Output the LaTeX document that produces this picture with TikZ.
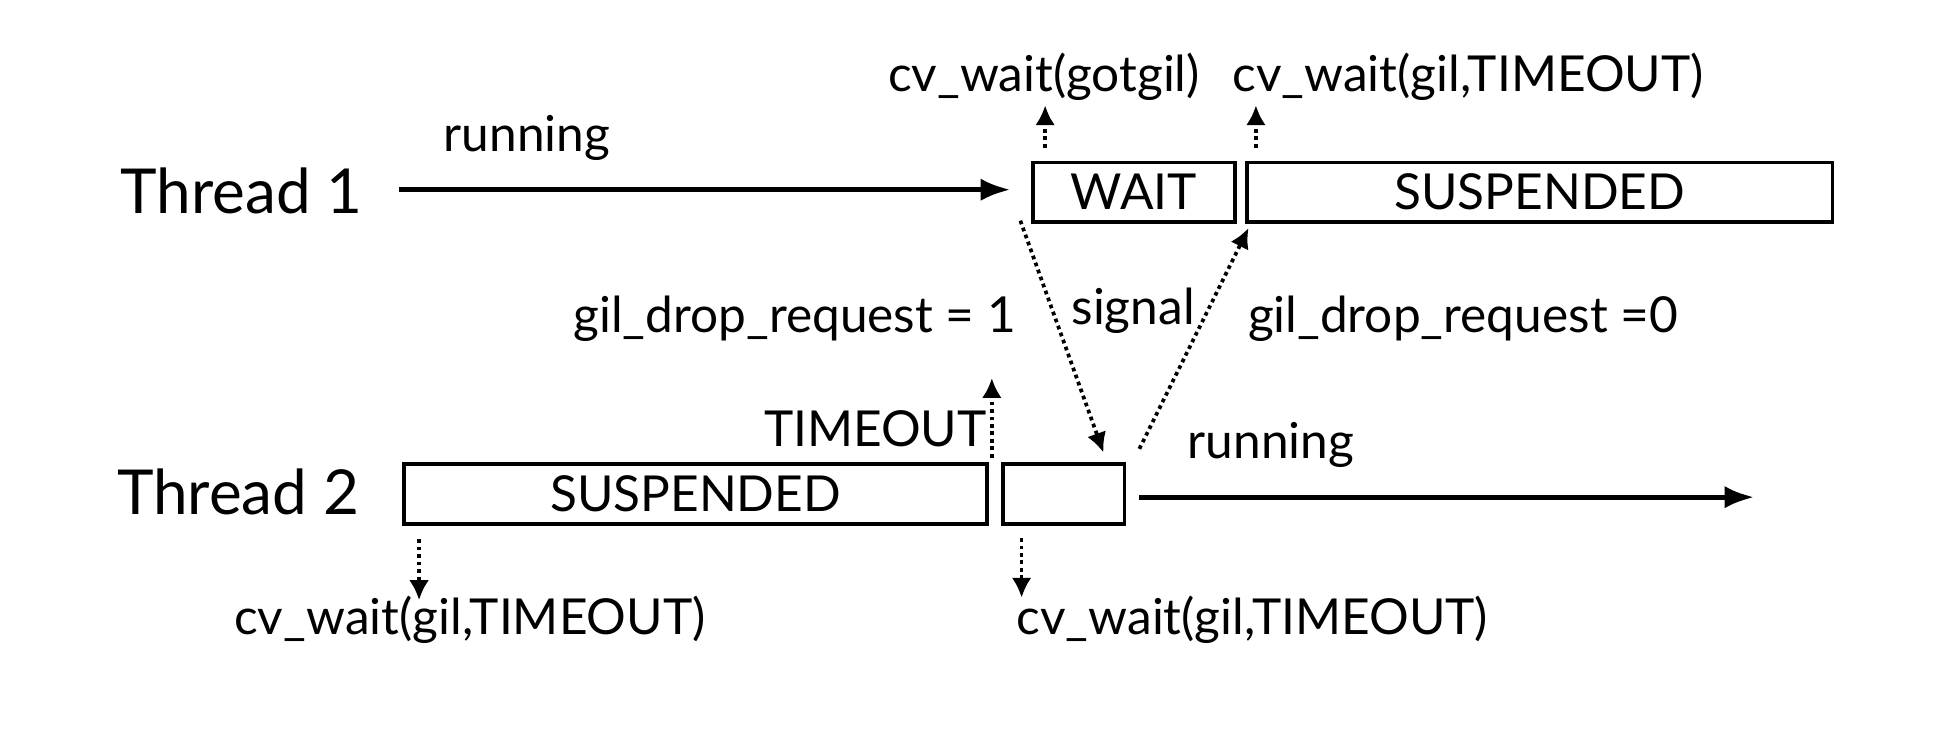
\documentclass[tikz,border=0pt]{standalone}
\usepackage{fontspec}
\setmainfont{Lato}
\usepackage{tikz}
\usetikzlibrary{arrows.meta,positioning}

\begin{document}
\begin{tikzpicture}[
    x=0.5pt, y=-0.5pt,
    state/.style={
        rectangle, draw=black, line width=1.5pt,
        minimum height=24pt, inner sep=0pt,
        font=\fontsize{20}{22}\selectfont
    },
    thread/.style={
        font=\fontsize{25}{28}\selectfont, anchor=base
    },
    lbl/.style={
        font=\fontsize{20}{22}\selectfont, anchor=base, inner sep=0pt
    },
    run/.style={
        -{Latex[length=12pt,width=9pt]}, line width=2pt
    },
    call/.style={
        -{Latex[length=8pt,width=8pt]}, line width=1.5pt,
        dash pattern=on 1.5pt off 1.5pt
    }
]
\useasboundingbox (0,0) rectangle (1568,602);

% Threads
\node[thread] (t1) at (195,172) {Thread 1};
\node[thread] (t2) at (192,415) {Thread 2};

% State boxes
\node[state, minimum width=81.5pt] (wait) at (914.5,155) {WAIT};
\node[state, minimum width=236pt] (susp1) at (1242,155) {SUSPENDED};
\node[state, minimum width=235pt] (susp2) at (561,398.5) {SUSPENDED};
\node[state, minimum width=49pt] (gap2) at (858,398.5) {};

% Arrow ends
\coordinate (r1a) at (322,153);
\coordinate (r1b) at (815,153);
\coordinate (r2a) at (919,401);
\coordinate (r2b) at (1415,401);
\coordinate (sigA) at (823,178);
\coordinate (sigB) at (890,365);
\coordinate (backA) at (919,362);
\coordinate (backB) at (1007,184);

% Labels
\node[lbl] (run1) at (425,122) {running};
\node[lbl] (run2) at (1025,370) {running};
\node[lbl] (gotgil) at (842,74) {cv\_wait(gotgil)};
\node[lbl] (cvtop) at (1184,74) {cv\_wait(gil,TIMEOUT)};
\node[lbl] (drop1) at (641,268) {gil\_drop\_request = 1};
\node[lbl] (signal) at (914,262) {signal};
\node[lbl] (drop0) at (1180,268) {gil\_drop\_request =0};
\node[lbl] (tmo) at (706,360) {TIMEOUT};
\node[lbl] (cvleft) at (379,512) {cv\_wait(gil,TIMEOUT)};
\node[lbl] (cvright) at (1010,512) {cv\_wait(gil,TIMEOUT)};

% Running arrows
\draw[run] (r1a) -- (r1b);
\draw[run] (r2a) -- (r2b);

% Calls
\draw[call] (843,119) -- (843,85);
\draw[call] (1013,119) -- (1013,85);
\draw[call] (800,369) -- (800,305);
\draw[call] (338,435) -- (338,484);
\draw[call] (824,434) -- (824,482);
\draw[call] (sigA) -- (sigB);
\draw[call] (backA) -- (backB);

\end{tikzpicture}
\end{document}
